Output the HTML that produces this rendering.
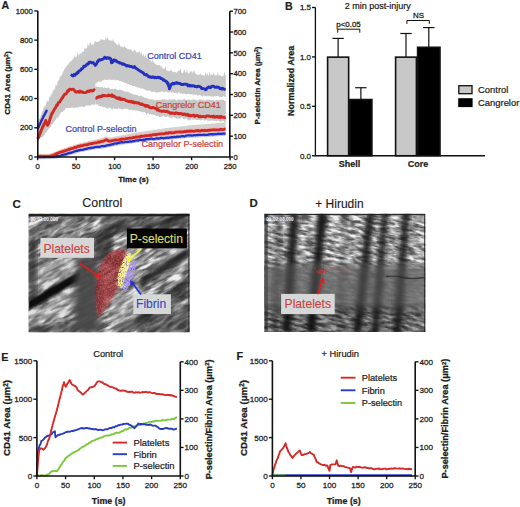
<!DOCTYPE html>
<html><head><meta charset="utf-8"><style>
html,body{margin:0;padding:0;background:#fff;}
body{width:520px;height:507px;overflow:hidden;}
svg{position:absolute;left:0;top:0;font-family:"Liberation Sans", sans-serif;}
</style></head><body>
<svg width="520" height="507" viewBox="0 0 520 507">
<defs>
<clipPath id="clipC"><rect x="28.6" y="213.7" width="161.0" height="118.5"/></clipPath>
<clipPath id="clipYel"><polygon points="116.5,285 118.5,272 122.5,261 126,255 131,252 130,262 126.5,274 122,287"/></clipPath>
<clipPath id="clipPur"><polygon points="122,288 125,276 129,266 133,260 137.5,262 133.5,274 129.5,286 125.5,291"/></clipPath>
<filter id="speckY" x="0" y="0" width="100%" height="100%"><feTurbulence type="fractalNoise" baseFrequency="0.8" numOctaves="1" seed="4"/><feColorMatrix type="matrix" values="0 0 0 0 0.95  0 0 0 0 0.92  0 0 0 0 0.3  3.5 0 0 0 -1.0"/></filter>
<filter id="speckP" x="0" y="0" width="100%" height="100%"><feTurbulence type="fractalNoise" baseFrequency="0.8" numOctaves="1" seed="8"/><feColorMatrix type="matrix" values="0 0 0 0 0.42  0 0 0 0 0.3  0 0 0 0 0.88  3.5 0 0 0 -0.9"/></filter>
<clipPath id="clipD"><rect x="264.4" y="213.8" width="161.0" height="118.2"/></clipPath>
<linearGradient id="gDband" x1="0" y1="260" x2="0" y2="316" gradientUnits="userSpaceOnUse"><stop offset="0" stop-color="#fff" stop-opacity="0"/><stop offset="0.18" stop-color="#fff" stop-opacity="0.85"/><stop offset="0.8" stop-color="#fff" stop-opacity="0.85"/><stop offset="1" stop-color="#fff" stop-opacity="0"/></linearGradient>
<mask id="maskDband" maskUnits="userSpaceOnUse" x="260" y="255" width="170" height="65"><rect x="260" y="260" width="170" height="56" fill="url(#gDband)"/></mask>
<linearGradient id="gDband2" x1="0" y1="260" x2="0" y2="316" gradientUnits="userSpaceOnUse"><stop offset="0" stop-color="#fff" stop-opacity="0"/><stop offset="0.18" stop-color="#fff" stop-opacity="1"/><stop offset="0.8" stop-color="#fff" stop-opacity="1"/><stop offset="1" stop-color="#fff" stop-opacity="0"/></linearGradient>
<mask id="maskDband2" maskUnits="userSpaceOnUse" x="260" y="205" width="170" height="135"><rect x="260" y="260" width="170" height="56" fill="url(#gDband2)"/></mask>
<clipPath id="clipDred"><ellipse cx="329" cy="270.5" rx="24" ry="4"/></clipPath>
<filter id="speckR" x="0" y="0" width="100%" height="100%"><feTurbulence type="fractalNoise" baseFrequency="0.7" numOctaves="1" seed="11"/><feColorMatrix type="matrix" values="0 0 0 0 0.85  0 0 0 0 0.15  0 0 0 0 0.15  4 0 0 0 -2.3"/></filter>
<clipPath id="clipRed"><polygon points="97.6,313.7 95.9,307 95.9,290 96.7,278.5 100,265 108.5,253.4 114,250.5 122,249 127,250 125,265 121.8,278.5 118.5,288.6 113.5,297 106.8,307 101.8,313.7 99,317"/></clipPath>
<filter id="noiseC" x="0" y="0" width="100%" height="100%" filterUnits="objectBoundingBox"><feTurbulence type="fractalNoise" baseFrequency="0.07 0.3" numOctaves="3" seed="3"/><feColorMatrix type="matrix" values="2.5 0 0 0 -0.75  2.5 0 0 0 -0.75  2.5 0 0 0 -0.75  0 0 0 0 1"/><feComponentTransfer><feFuncR type="table" tableValues="0.1 0.16 0.24 0.33 0.45 0.63 0.86"/><feFuncG type="table" tableValues="0.1 0.16 0.24 0.33 0.45 0.63 0.86"/><feFuncB type="table" tableValues="0.1 0.16 0.24 0.33 0.45 0.63 0.86"/></feComponentTransfer></filter>
<filter id="noiseC2" x="0" y="0" width="100%" height="100%"><feTurbulence type="fractalNoise" baseFrequency="0.06 0.35" numOctaves="3" seed="7"/><feColorMatrix type="matrix" values="0 0 0 0 1  0 0 0 0 1  0 0 0 0 1  2.2 0 0 0 -0.7"/></filter>
<filter id="noiseV" x="0" y="0" width="100%" height="100%" filterUnits="objectBoundingBox"><feTurbulence type="fractalNoise" baseFrequency="0.1 0.36" numOctaves="3" seed="5"/><feColorMatrix type="matrix" values="2.5 0 0 0 -0.75  2.5 0 0 0 -0.75  2.5 0 0 0 -0.75  0 0 0 0 1"/><feComponentTransfer><feFuncR type="table" tableValues="0.1 0.17 0.26 0.36 0.48 0.65 0.87"/><feFuncG type="table" tableValues="0.1 0.17 0.26 0.36 0.48 0.65 0.87"/><feFuncB type="table" tableValues="0.1 0.17 0.26 0.36 0.48 0.65 0.87"/></feComponentTransfer></filter>
<filter id="speck" x="0" y="0" width="100%" height="100%"><feTurbulence type="fractalNoise" baseFrequency="0.6" numOctaves="2" seed="9"/><feColorMatrix type="matrix" values="0 0 0 0 1  0 0 0 0 0.75  0 0 0 0 0.75  3 0 0 0 -1.2"/></filter>
<filter id="blur1"><feGaussianBlur stdDeviation="1"/></filter>
<filter id="blur2"><feGaussianBlur stdDeviation="2"/></filter>
<filter id="blur3"><feGaussianBlur stdDeviation="3"/></filter>
<filter id="blur4"><feGaussianBlur stdDeviation="4"/></filter>
</defs>
<text x="1.6" y="8.6" font-size="10.6" text-anchor="start" font-weight="bold" fill="#1c1c1c" stroke="#1c1c1c" stroke-width="0.18" >A</text>
<polygon points="37.5,122.0 38.0,121.1 38.5,121.0 39.1,119.6 39.6,118.4 40.1,118.2 40.4,116.6 40.7,115.9 41.0,112.0 41.3,115.5 41.6,114.2 41.9,112.6 42.2,110.3 42.5,111.6 42.8,111.0 43.1,110.1 43.4,105.3 43.7,109.3 44.0,108.1 44.3,106.3 44.8,106.7 45.3,106.1 45.8,105.5 46.3,99.9 46.9,103.5 47.4,100.1 47.9,102.1 48.4,101.2 48.8,100.0 49.2,96.1 49.5,98.7 49.9,95.4 50.3,97.1 50.7,96.3 51.1,91.8 51.5,95.8 51.8,93.6 52.2,94.4 52.6,92.5 53.0,88.9 53.3,91.1 53.7,90.3 54.1,89.8 54.5,89.2 54.8,89.3 55.2,88.0 55.6,83.1 56.0,86.1 56.3,86.0 56.7,84.5 57.1,84.7 57.5,83.1 57.8,80.5 58.2,81.5 58.6,80.6 59.0,79.8 59.4,79.7 59.8,75.4 60.1,76.6 60.5,76.6 60.9,76.4 61.3,75.3 61.6,75.6 62.0,74.6 62.4,73.6 62.8,72.2 63.1,72.4 63.5,70.6 63.9,70.5 64.3,69.6 64.6,68.5 65.0,68.6 65.5,67.9 66.0,67.3 66.5,66.0 67.0,66.1 67.6,64.7 68.1,64.7 68.6,63.7 69.1,62.9 69.8,61.5 70.5,62.1 71.2,61.0 71.9,60.3 72.6,59.4 73.3,58.3 74.0,57.7 74.7,55.0 75.4,57.3 76.2,57.3 76.9,56.0 77.7,51.7 78.5,55.5 79.2,55.3 80.0,52.7 80.7,54.1 81.3,53.6 82.0,52.7 82.6,51.5 83.3,52.0 83.9,51.2 84.6,48.3 85.2,47.8 85.8,49.2 86.3,48.1 86.9,48.4 87.5,42.9 88.0,45.7 88.6,45.8 89.2,44.9 90.1,41.5 91.0,44.1 92.0,44.7 92.9,44.5 93.8,44.6 94.6,42.1 95.4,40.9 96.2,41.9 96.9,42.0 97.7,41.7 98.5,41.6 99.4,41.3 100.3,40.0 101.2,38.7 102.1,40.1 103.0,39.4 103.9,40.1 104.9,40.2 105.8,36.9 106.8,40.0 107.7,36.3 108.5,40.5 109.2,40.2 110.0,40.1 110.8,41.2 111.5,40.3 112.3,41.3 113.1,38.4 113.8,41.6 114.6,42.2 115.4,43.0 116.1,43.7 116.9,44.7 117.7,45.2 118.4,44.7 119.2,42.5 120.0,45.9 120.7,46.6 121.5,46.2 122.3,47.2 123.1,46.6 123.8,47.9 124.6,45.5 125.4,47.8 126.2,47.3 127.0,48.4 127.7,49.2 128.5,49.2 129.3,49.0 130.0,49.9 130.8,49.1 131.6,50.1 132.3,51.4 133.1,51.2 133.9,51.0 134.6,49.2 135.4,50.4 136.2,52.5 136.9,52.3 137.7,52.2 138.5,52.5 139.2,50.8 140.0,53.4 140.7,53.8 141.3,51.4 142.0,55.0 142.7,55.8 143.3,53.3 144.0,56.6 144.7,56.4 145.3,53.7 146.0,57.1 146.7,58.0 147.4,59.1 148.1,57.9 148.9,59.1 149.6,60.5 150.3,59.4 151.0,61.7 151.7,61.7 152.4,59.3 153.1,62.5 153.9,61.5 154.6,63.7 155.3,64.0 156.0,64.6 156.7,64.8 157.4,64.9 158.1,65.3 158.8,65.1 159.6,64.9 160.3,67.0 161.0,64.7 161.7,66.9 162.5,68.4 163.2,68.8 164.0,68.5 164.7,69.0 165.5,66.1 166.2,70.0 167.0,70.4 167.9,70.9 168.8,70.9 169.7,71.3 170.5,70.1 171.4,70.0 172.3,72.0 173.1,71.5 173.9,72.1 174.7,72.2 175.6,72.1 176.4,72.8 177.2,72.4 178.0,70.4 178.8,71.0 179.6,70.2 180.5,68.2 181.3,72.5 182.1,73.1 182.9,73.2 183.7,70.7 184.5,69.4 185.3,72.4 186.2,72.5 187.0,69.5 187.8,73.1 188.6,73.4 189.4,73.1 190.2,70.8 191.1,72.4 191.9,70.1 192.7,73.7 193.5,70.4 194.3,71.1 195.1,74.1 195.9,72.9 196.7,75.0 197.5,74.5 198.3,75.1 199.2,74.2 200.0,74.6 200.8,73.2 201.6,75.3 202.4,74.9 203.2,75.2 204.0,75.4 204.8,76.0 205.6,71.5 206.4,75.8 207.3,72.5 208.1,75.5 208.9,75.6 209.7,71.0 210.5,76.0 211.3,73.7 212.2,75.3 213.0,74.8 213.8,72.1 214.6,75.5 215.4,75.3 216.2,75.1 217.0,75.9 217.8,71.7 218.6,75.8 219.4,75.3 220.2,75.4 221.0,75.6 221.8,76.5 222.6,75.9 223.4,76.5 224.2,72.2 225.0,73.1 225.8,76.0 225.8,97.0 224.7,96.9 223.7,95.7 222.6,96.7 221.6,97.3 220.5,97.0 219.5,96.8 218.4,96.3 217.4,96.1 216.3,96.1 215.3,96.4 214.2,95.8 213.2,97.2 212.1,96.0 211.1,96.9 210.0,96.0 209.0,96.6 207.9,95.6 206.9,96.7 205.9,96.0 204.8,96.0 203.8,95.3 202.8,96.5 201.8,96.0 200.7,95.5 199.7,95.0 198.7,95.3 197.6,95.8 196.6,94.6 195.6,95.1 194.5,94.7 193.5,94.8 192.5,94.3 191.4,94.3 190.4,94.0 189.3,94.3 188.3,93.8 187.3,93.9 186.2,94.2 185.2,94.1 184.2,93.5 183.1,93.7 182.1,94.1 181.0,92.9 180.0,93.9 179.0,91.6 178.0,93.4 177.0,93.7 176.0,92.2 175.0,93.2 174.0,92.8 173.0,92.5 172.0,92.5 171.0,92.8 170.0,91.5 169.0,92.5 168.0,92.5 167.0,92.1 166.0,91.4 165.0,91.4 164.0,93.1 163.0,91.5 162.0,91.5 161.0,91.6 160.0,92.1 159.0,92.2 158.0,92.3 157.0,92.9 155.9,92.1 154.9,92.4 153.8,91.1 152.8,92.1 151.8,91.9 150.7,91.2 149.7,90.3 148.6,90.4 147.6,90.7 146.5,90.5 145.5,90.2 144.6,89.2 143.6,89.0 142.6,87.9 141.6,88.9 140.7,88.6 139.7,87.8 138.7,87.6 137.7,87.7 136.8,86.7 135.8,87.0 134.8,86.1 133.8,86.0 132.9,86.3 131.9,85.6 130.9,84.9 129.9,85.1 128.9,84.2 127.9,84.4 127.0,83.6 126.0,83.0 125.0,83.0 124.0,82.6 123.0,82.0 122.1,81.6 121.1,81.4 120.1,80.7 119.1,81.0 118.1,80.0 117.1,80.0 116.2,80.2 115.2,80.2 114.2,79.6 113.1,79.9 112.1,79.9 111.0,79.7 109.9,79.5 108.8,79.5 107.8,80.2 106.7,79.4 105.6,80.5 104.6,79.3 103.5,80.5 102.5,80.2 101.5,81.7 100.5,81.8 99.5,81.7 98.4,81.5 97.4,82.2 96.4,82.8 95.4,83.5 95.4,104.5 94.4,104.4 93.3,105.1 92.3,104.6 91.2,104.8 90.2,105.9 89.1,105.2 88.1,105.7 87.0,105.3 86.0,105.7 84.9,106.7 83.9,106.9 82.8,107.1 81.8,106.3 80.7,106.7 79.6,106.9 78.6,106.7 77.5,108.0 76.5,107.5 75.4,107.5 74.2,108.5 73.0,107.5 71.9,107.4 70.7,107.7 69.5,108.3 68.5,107.7 67.4,107.9 66.4,107.9 65.5,108.4 64.6,110.3 63.7,110.7 62.7,111.7 61.8,112.3 60.9,112.0 60.2,113.9 59.5,114.8 58.8,115.7 58.1,118.4 57.4,117.2 56.7,117.6 56.2,119.0 55.7,119.6 55.2,120.4 54.7,121.0 54.1,121.8 53.6,122.6 53.1,124.2 52.6,124.4 51.9,123.5 51.2,126.4 50.5,126.9 49.8,127.4 49.1,128.6 48.4,128.8 47.5,130.5 46.7,131.5 45.8,132.7 45.2,132.7 44.5,134.8 43.9,134.7 43.2,136.4 42.6,136.9 41.8,137.1 40.9,137.6 40.1,138.0 39.3,138.7 38.4,141.1 37.6,140.5" fill="#c8c8c8"/>
<polygon points="95.4,86.8 96.4,86.3 97.4,87.2 98.4,86.7 99.5,87.5 100.5,87.0 101.5,87.2 102.5,86.9 103.5,88.1 104.6,87.3 105.6,88.1 106.7,88.1 107.8,87.7 108.8,87.6 109.9,88.9 111.0,89.1 112.1,88.7 113.1,89.2 114.2,89.0 115.2,88.5 116.2,89.3 117.1,89.5 118.1,90.2 119.1,89.5 120.1,89.7 121.1,89.9 122.1,90.2 123.0,90.4 124.0,91.5 125.0,91.4 126.0,91.7 127.0,91.6 127.9,92.1 128.9,92.3 129.9,93.3 130.9,92.7 131.9,94.3 132.9,93.8 133.8,94.9 134.8,94.3 135.8,95.1 136.8,94.9 137.7,94.9 138.7,96.5 139.7,95.8 140.7,96.2 141.6,95.2 142.6,96.7 143.6,97.0 144.6,97.8 145.5,97.7 146.5,98.1 147.6,98.6 148.7,99.1 149.7,99.4 150.8,98.9 151.9,99.4 153.0,99.2 154.1,99.9 155.1,100.5 156.2,99.9 157.3,99.7 158.4,99.8 159.4,100.1 160.5,99.9 161.5,99.7 162.6,99.0 163.7,99.4 164.7,99.3 165.8,99.4 166.8,99.9 167.9,100.2 168.9,99.4 170.0,99.2 171.0,100.1 172.0,98.9 173.0,100.1 174.0,98.9 175.0,99.4 176.0,100.0 177.0,101.0 178.0,98.9 179.0,99.5 180.0,99.9 181.0,99.5 182.0,100.2 183.0,99.8 184.0,98.8 185.0,99.1 186.0,100.1 187.0,100.0 188.0,99.5 189.0,99.1 190.0,100.2 191.0,99.9 192.0,99.7 193.0,99.6 194.0,99.1 195.0,99.8 196.0,99.6 197.0,100.4 198.0,100.4 199.0,99.7 200.0,99.0 201.0,99.4 202.0,100.3 203.0,99.3 204.0,100.5 205.0,100.1 206.0,100.3 207.0,99.5 208.0,100.1 209.0,99.5 210.0,100.2 211.0,100.1 212.0,100.3 213.0,100.0 214.0,99.7 215.0,101.3 216.1,99.7 217.2,100.1 218.2,100.2 219.3,100.2 220.4,100.1 221.5,99.8 222.6,99.7 223.6,100.1 224.7,101.0 225.8,100.5 225.8,121.5 224.7,123.0 223.7,120.9 222.6,120.7 221.6,121.5 220.5,121.9 219.4,121.0 218.4,120.8 217.3,120.7 216.2,121.5 215.2,120.6 214.1,120.9 213.1,120.8 212.0,120.2 211.0,120.6 210.0,121.3 209.0,120.5 208.0,121.3 207.0,119.8 206.0,120.1 205.0,120.8 204.0,120.2 203.0,119.4 202.0,119.7 201.0,120.8 200.0,120.1 199.0,119.8 198.0,120.0 197.0,119.9 196.0,119.8 195.0,119.7 194.0,119.3 193.0,120.2 192.0,119.1 191.0,119.4 190.0,120.1 189.0,120.7 188.0,120.0 187.0,119.3 186.0,118.1 185.0,119.6 184.0,118.9 183.0,119.0 182.0,116.5 181.0,118.4 180.0,118.4 179.0,118.6 178.0,118.5 177.0,118.7 176.0,118.7 175.0,117.4 174.0,117.7 173.0,116.8 172.0,118.4 171.0,118.2 170.0,117.2 168.9,117.5 167.9,115.7 166.8,117.6 165.8,116.4 164.7,116.9 163.7,115.6 162.6,116.3 161.5,116.4 160.5,116.8 159.4,117.6 158.4,115.5 157.3,116.3 156.3,115.7 155.3,115.6 154.4,114.7 153.4,114.9 152.4,114.5 151.4,114.6 150.4,113.8 149.4,114.4 148.5,113.4 147.5,112.7 146.5,115.4 145.5,113.0 144.6,112.0 143.6,111.9 142.6,112.5 141.6,111.9 140.7,111.2 139.7,111.5 138.7,111.0 137.7,110.7 136.8,110.6 135.8,110.4 134.7,110.4 133.6,110.0 132.6,110.6 131.5,109.8 130.4,110.3 129.3,109.8 128.2,109.6 127.2,108.6 126.1,109.1 125.0,108.8 123.9,108.8 122.8,109.2 121.8,109.5 120.7,108.7 119.6,108.8 118.5,108.2 117.4,108.9 116.4,108.7 115.3,108.7 114.2,108.9 113.1,107.8 112.1,110.2 111.0,108.2 109.9,107.9 108.8,107.2 107.8,109.0 106.7,108.1 105.6,107.7 104.6,107.0 103.5,107.4 102.5,106.6 101.5,106.2 100.5,106.6 99.5,105.5 98.4,106.1 97.4,103.9 96.4,104.4 95.4,104.5" fill="#c8c8c8"/>
<polygon points="37.7,155.1 49.2,154.6 55.4,152.2 63.0,148.9 70.8,146.3 78.5,143.8 86.2,141.8 93.8,140.1 101.5,138.2 106.2,136.3 109.2,137.6 120.0,135.7 136.2,132.6 150.0,130.6 166.9,127.9 180.0,126.4 193.5,125.0 210.0,123.7 225.6,122.2 225.6,134.7 210.0,135.7 190.0,136.7 170.0,138.7 150.0,140.2 136.2,141.8 120.0,143.9 109.2,146.2 101.5,147.7 93.8,148.5 86.2,150.0 78.5,151.6 70.8,153.9 63.0,156.2 55.4,157.7 52.0,158.0 37.7,158.2" fill="#d2d2d2"/>
<polygon points="37.7,154.1 49.2,154.0 55.4,151.7 63.0,148.7 70.8,146.3 78.5,144.0 86.2,142.2 93.8,140.7 101.5,139.1 106.2,137.3 109.2,138.7 120.0,137.1 136.2,134.5 150.0,132.9 166.9,130.7 180.0,129.5 193.5,128.5 210.0,127.7 225.6,126.7 225.6,131.4 210.0,132.4 193.5,133.2 180.0,134.2 166.9,135.4 150.0,137.6 136.2,139.2 120.0,141.8 109.2,143.4 106.2,142.0 101.5,143.8 93.8,145.4 86.2,146.9 78.5,148.7 70.8,151.0 63.0,153.4 55.4,156.4 49.2,158.7 37.7,158.8" fill="#f2b8b0"/>
<polygon points="37.7,155.2 52.0,155.0 55.4,154.7 63.0,153.2 70.8,150.9 78.5,148.6 86.2,147.0 93.8,145.5 101.5,144.7 109.2,143.2 120.0,140.9 136.2,138.8 150.0,137.2 170.0,135.7 190.0,133.7 210.0,132.7 225.6,131.7 225.6,135.7 210.0,136.7 190.0,137.7 170.0,139.7 150.0,141.2 136.2,142.8 120.0,144.9 109.2,147.2 101.5,148.7 93.8,149.5 86.2,151.0 78.5,152.6 70.8,154.9 63.0,157.2 55.4,158.7 52.0,159.0 37.7,159.2" fill="#b8c0f0"/>
<polyline points="37.7,157.0 38.7,156.8 39.7,157.1 40.8,157.1 41.8,156.9 42.8,156.7 43.8,157.1 44.9,157.1 45.9,156.9 46.9,156.9 47.9,156.7 48.9,156.5 50.0,156.7 51.0,156.9 52.0,156.5 53.1,156.9 54.3,156.4 55.4,156.3 56.5,156.0 57.6,156.4 58.7,156.0 59.7,155.9 60.8,155.5 61.9,154.9 63.0,154.9 64.0,154.7 65.0,154.2 65.9,154.5 66.9,153.8 67.9,153.3 68.8,153.5 69.8,152.7 70.8,153.0 71.8,152.4 72.7,152.2 73.7,151.7 74.7,151.5 75.6,151.0 76.6,150.7 77.5,150.9 78.5,150.2 79.6,150.4 80.7,149.7 81.8,150.0 82.9,149.8 84.0,149.4 85.1,149.2 86.2,148.9 87.3,148.7 88.4,148.1 89.5,148.1 90.5,148.2 91.6,147.5 92.7,147.8 93.8,147.6 94.9,147.1 96.0,147.0 97.1,146.9 98.2,146.8 99.3,147.1 100.4,146.5 101.5,146.2 102.6,146.0 103.7,146.2 104.8,146.2 105.9,145.6 107.0,145.4 108.1,145.2 109.2,145.2 110.2,144.6 111.2,144.7 112.1,144.4 113.1,144.2 114.1,143.7 115.1,143.5 116.1,143.4 117.1,143.6 118.0,143.0 119.0,143.0 120.0,142.6 121.0,142.3 122.0,142.1 123.0,142.5 124.0,142.4 125.1,142.0 126.1,142.0 127.1,141.9 128.1,141.9 129.1,141.8 130.1,141.3 131.1,141.6 132.1,141.4 133.2,141.1 134.2,141.1 135.2,140.7 136.2,140.5 137.3,140.3 138.3,140.6 139.4,140.0 140.4,139.8 141.5,140.2 142.6,140.1 143.6,139.7 144.7,139.9 145.8,139.2 146.8,139.2 147.9,139.1 148.9,139.1 150.0,138.8 151.0,138.6 152.0,138.7 153.0,139.1 154.0,139.0 155.0,138.8 156.0,138.5 157.0,138.3 158.0,138.7 159.0,138.3 160.0,138.4 161.0,137.8 162.0,137.9 163.0,138.3 164.0,138.2 165.0,138.1 166.0,137.9 167.0,137.7 168.0,137.7 169.0,137.8 170.0,137.4 171.0,137.4 172.0,137.1 173.0,137.4 174.0,136.8 175.0,137.1 176.0,137.2 177.0,136.5 178.0,136.8 179.0,136.7 180.0,136.7 181.0,136.5 182.0,136.1 183.0,136.1 184.0,136.4 185.0,136.3 186.0,135.6 187.0,135.5 188.0,135.4 189.0,135.3 190.0,135.5 191.0,135.2 192.0,135.7 193.0,135.5 194.0,135.0 195.0,135.3 196.0,135.1 197.0,135.1 198.0,134.9 199.0,134.8 200.0,134.8 201.0,134.9 202.0,135.0 203.0,134.9 204.0,134.5 205.0,134.9 206.0,135.0 207.0,134.8 208.0,134.8 209.0,134.2 210.0,134.5 211.0,134.1 212.1,134.6 213.1,134.1 214.2,134.4 215.2,134.0 216.2,134.2 217.3,133.9 218.3,133.6 219.4,133.8 220.4,133.7 221.4,134.0 222.5,133.6 223.5,133.6 224.6,133.6 225.6,133.5" fill="none" stroke="#2430c0" stroke-width="2.2" stroke-linejoin="round"/>
<polyline points="37.7,156.6 38.7,156.9 39.8,156.3 40.8,156.2 41.9,156.9 42.9,156.3 44.0,156.3 45.0,156.6 46.1,156.4 47.1,156.8 48.2,156.3 49.2,156.8 50.2,156.0 51.3,155.8 52.3,155.7 53.3,155.1 54.4,154.9 55.4,154.3 56.4,153.5 57.3,153.7 58.2,153.1 59.2,152.6 60.1,152.1 61.1,152.2 62.0,151.6 63.0,151.5 64.0,151.1 65.0,150.9 65.9,150.3 66.9,150.1 67.9,149.8 68.8,149.2 69.8,149.4 70.8,148.7 71.8,148.7 72.7,148.5 73.7,148.0 74.7,147.4 75.6,147.6 76.6,147.2 77.5,146.6 78.5,146.2 79.6,146.3 80.7,145.7 81.8,146.0 82.9,145.5 84.0,145.2 85.1,144.9 86.2,144.8 87.3,144.8 88.4,144.1 89.5,144.0 90.5,143.9 91.6,143.5 92.7,143.5 93.8,143.2 94.9,142.9 96.0,142.9 97.1,142.5 98.2,142.0 99.3,142.4 100.4,141.7 101.5,141.6 102.4,141.2 103.4,141.2 104.3,140.8 105.3,140.2 106.2,139.7 107.2,140.0 108.2,141.0 109.2,141.0 110.3,141.1 111.4,140.8 112.4,140.6 113.5,140.5 114.6,140.2 115.7,139.9 116.8,140.1 117.8,140.1 118.9,139.9 120.0,139.4 121.0,139.6 122.0,139.0 123.0,139.1 124.0,139.2 125.1,139.1 126.1,138.6 127.1,138.7 128.1,138.3 129.1,138.2 130.1,138.0 131.1,138.2 132.1,137.8 133.2,137.5 134.2,137.5 135.2,137.3 136.2,136.9 137.3,137.1 138.3,137.0 139.4,136.7 140.4,136.8 141.5,136.0 142.6,136.3 143.6,136.2 144.7,135.9 145.8,135.7 146.8,135.9 147.9,135.6 148.9,135.4 150.0,135.1 151.0,135.6 152.0,135.0 153.0,134.7 154.0,134.7 155.0,134.6 156.0,134.9 157.0,134.3 158.0,134.2 158.9,134.0 159.9,134.1 160.9,133.8 161.9,133.7 162.9,133.9 163.9,133.9 164.9,133.7 165.9,133.0 166.9,133.1 167.9,133.4 168.9,132.7 169.9,132.7 170.9,132.8 171.9,132.7 172.9,132.8 174.0,132.7 175.0,132.4 176.0,132.2 177.0,132.1 178.0,132.0 179.0,131.8 180.0,132.1 181.0,131.7 182.1,132.1 183.1,131.9 184.2,131.4 185.2,131.6 186.2,131.6 187.3,131.1 188.3,131.4 189.3,131.0 190.4,131.4 191.4,130.8 192.5,131.2 193.5,131.3 194.5,131.2 195.6,130.7 196.6,130.9 197.6,130.5 198.7,130.6 199.7,131.0 200.7,130.9 201.8,130.3 202.8,130.5 203.8,130.6 204.8,130.2 205.9,130.6 206.9,130.6 207.9,130.3 209.0,130.2 210.0,130.4 211.0,130.1 212.1,129.8 213.1,129.8 214.2,129.7 215.2,130.1 216.2,129.8 217.3,129.9 218.3,129.9 219.4,129.9 220.4,129.3 221.4,129.4 222.5,129.7 223.5,129.5 224.6,129.2 225.6,129.2" fill="none" stroke="#d02a24" stroke-width="2.8" stroke-linejoin="round"/>
<polyline points="37.4,129.0 37.9,128.4 38.3,127.6 38.8,126.6 39.3,125.0 39.7,124.5 40.2,123.5 40.6,122.6 41.1,121.4 41.5,120.5 42.0,119.8 42.4,118.7 42.9,118.0 43.4,116.6 43.9,115.7 44.4,115.2 44.9,113.9 45.4,113.0 45.9,112.2 46.4,110.9 47.2,110.0" fill="none" stroke="#2430c0" stroke-width="2.4"/>
<polyline points="70.8,74.5 71.9,75.3 73.0,76.0 74.0,74.6 75.0,75.2 75.9,73.6 76.9,73.7 77.6,72.2 78.3,72.5 78.9,70.9 79.6,71.0 80.3,70.4 81.0,69.7 81.6,68.6 82.3,68.5 83.0,68.0 83.8,66.2 84.5,66.2 85.3,66.2 86.1,65.3 86.9,64.3 87.7,63.6 88.4,63.9 89.2,62.1 90.8,62.3 91.9,62.9 93.0,62.5 93.8,63.5 94.6,64.3 95.4,65.4 95.9,64.3 96.3,64.2 96.8,63.4 97.2,61.8 97.7,61.8 98.6,60.1 99.4,59.7 100.3,60.1 101.2,59.8 102.0,59.4 102.9,59.2 103.7,58.6 104.6,57.3 105.5,58.1 106.4,58.5 107.3,57.5 108.1,58.3 109.0,58.0 109.9,58.1 110.8,58.8 111.0,60.0 111.2,61.4 111.3,61.2 111.5,62.7 112.3,62.5 113.0,61.3 113.8,60.0 114.7,60.0 115.5,61.0 116.4,60.8 117.2,61.8 118.1,62.2 118.9,62.2 119.8,63.1 120.6,63.0 121.5,63.5 122.4,64.3 123.2,63.8 124.1,64.1 124.9,64.9 125.8,65.1 126.6,66.0 127.5,65.5 128.3,66.0 129.2,65.9 130.2,66.6 131.3,66.5 132.3,66.8 133.3,67.4 134.4,66.5 135.4,68.0 136.2,68.2 136.9,69.0 137.7,69.3 138.5,70.0 139.2,70.4 140.0,71.1 140.9,71.4 141.8,72.1 142.7,72.6 143.5,73.1 144.3,74.4 145.1,74.7 145.8,75.0 146.6,74.6 147.4,75.4 148.2,76.3 149.0,77.0 149.9,76.7 150.8,77.1 151.7,77.6 152.7,76.8 153.6,77.1 154.5,77.8 155.4,77.2 156.3,77.9 157.2,77.6 158.1,77.1 159.0,77.8 159.9,77.4 160.8,78.5 161.7,78.7 162.5,78.9 163.3,80.2 164.2,79.9 165.0,80.9 165.8,81.2 166.5,81.6 167.2,83.3 168.0,82.9 168.3,85.0 168.6,85.5 168.8,86.6 169.1,86.6 169.4,88.8 169.9,87.8 170.4,86.0 171.0,85.2 171.5,84.3 172.0,84.0 172.9,83.2 173.8,84.0 174.8,83.3 175.7,83.4 176.6,82.6 177.5,83.3 178.5,83.2 179.4,83.6 180.3,83.5 181.3,84.5 182.2,84.5 183.1,84.6 184.1,84.1 185.0,84.1 186.0,84.2 187.0,84.4 188.0,85.8 189.0,85.1 190.0,86.1 191.0,85.4 192.0,86.1 193.0,85.6 194.0,85.8 195.0,86.5 196.0,86.5 197.0,87.0 198.0,86.1 198.9,86.5 199.9,86.6 200.8,87.2 201.8,88.6 202.7,88.4 203.6,88.6 204.6,88.8 205.5,89.8 206.4,89.2 207.2,88.0 208.1,87.3 209.0,87.0 209.9,87.7 210.8,87.3 211.8,86.4 212.7,86.1 213.8,86.4 214.8,87.2 215.9,87.4 216.9,86.9 218.0,87.3 219.0,87.4 219.9,88.6 220.9,88.3 221.8,89.1 222.8,88.3 223.8,89.1 224.7,89.3 225.7,89.4" fill="none" stroke="#2430c0" stroke-width="2.9" stroke-linejoin="round"/>
<polyline points="37.7,139.0 38.1,137.8 38.5,137.6 39.0,136.5 39.4,134.6 39.8,134.7 40.1,133.5 40.5,131.9 40.8,132.3 41.1,130.5 41.5,129.7 41.9,128.9 42.3,128.1 42.7,126.5 43.1,126.3 43.5,125.5 43.9,124.2 44.4,123.7 44.8,122.7 45.3,122.1 45.7,120.4 46.1,121.4 46.4,122.4 46.8,122.8 47.1,124.8 47.5,125.2 48.6,123.4 48.9,123.2 49.1,122.1 49.4,120.9 49.6,120.0 49.9,119.5 50.2,118.1 50.4,117.9 50.7,117.0 50.9,115.6 51.2,115.7 51.7,113.7 52.1,113.0 52.6,113.0 53.1,111.3 53.5,110.8 54.0,110.1 54.5,109.0 55.1,108.2 55.6,107.4 56.2,106.5 56.7,105.0 57.3,105.2 57.9,103.7 58.5,102.6 59.1,102.3 59.7,102.0 60.3,101.0 60.9,99.9 61.5,99.2 62.1,98.0 62.7,97.8 63.2,96.6 63.8,95.5 64.4,94.8 65.0,93.9 65.6,94.1 66.2,93.7 66.8,92.8 67.3,91.4 67.9,90.6 68.5,91.0 69.1,89.5 70.1,89.1 71.2,89.5 72.2,89.3 73.3,89.1 73.8,89.7 74.3,90.2 74.9,91.2 75.4,91.9 76.3,92.2 77.2,91.7 78.2,91.5 79.1,92.3 80.0,91.0 81.1,92.1 82.1,91.8 83.2,92.5 84.2,92.6 85.3,92.6 86.2,92.4 87.2,91.5 88.1,90.9 89.1,91.6 90.0,90.7 91.0,90.3 92.1,91.1 93.1,90.6 94.2,89.7 95.2,90.2" fill="none" stroke="#d02a24" stroke-width="2.9" stroke-linejoin="round"/>
<polyline points="95.4,98.3 96.3,98.3 97.2,97.3 98.1,97.0 99.0,97.2 99.9,96.2 100.8,96.9 101.7,96.6 102.6,95.3 103.5,95.9 104.5,95.5 105.4,95.6 106.4,95.9 107.3,95.9 108.3,95.0 109.2,95.5 110.2,95.3 111.0,95.9 111.9,94.9 112.7,96.5 113.6,95.9 114.4,96.1 115.2,97.1 116.1,97.7 116.9,98.2 117.8,97.7 118.7,98.7 119.6,97.8 120.5,99.5 121.4,98.8 122.3,99.5 123.2,99.2 124.1,99.4 125.0,99.6 125.9,100.6 126.9,100.8 127.8,101.3 128.8,101.6 129.7,101.2 130.6,102.0 131.6,101.3 132.5,102.4 133.5,101.8 134.4,102.9 135.3,102.4 136.3,102.7 137.2,103.1 138.2,102.8 139.1,103.1 140.0,104.0 141.0,104.5 141.9,103.8 142.9,104.6 143.8,104.8 144.7,105.7 145.6,106.3 146.5,105.3 147.4,106.3 148.3,105.9 149.2,107.2 150.1,107.7 151.0,107.7 151.9,107.8 152.8,107.4 153.7,107.7 154.6,108.2 155.5,108.3 156.4,108.7 157.3,110.1 158.2,109.6 159.1,110.7 160.0,110.8 160.9,111.0 161.9,111.4 162.8,111.3 163.8,111.0 164.7,111.4 165.6,111.5 166.6,111.2 167.5,111.4 168.5,112.4 169.4,112.5 170.3,113.3 171.2,112.9 172.1,113.3 173.0,113.0 173.9,113.3 174.8,113.7 175.7,112.8 176.7,112.9 177.6,113.6 178.5,113.5 179.4,113.8 180.3,113.5 181.2,113.7 182.1,113.8 183.0,114.6 183.9,113.9 184.8,114.0 185.7,115.0 186.6,114.8 187.5,114.3 188.4,115.7 189.3,115.1 190.2,115.9 191.1,115.6 192.0,115.5 192.9,115.4 193.8,115.1 194.7,116.4 195.6,115.7 196.5,115.6 197.4,115.5 198.3,116.2 199.2,116.8 200.1,116.1 201.0,116.7 201.9,116.6 202.8,116.3 203.7,116.6 204.6,116.7 205.5,117.0 206.4,115.9 207.3,116.0 208.2,116.2 209.1,116.0 210.0,116.4 210.9,116.6 211.8,116.4 212.7,116.8 213.6,116.1 214.6,117.4 215.5,117.2 216.4,116.4 217.3,116.5 218.3,117.3 219.2,116.5 220.1,117.4 221.1,116.4 222.0,117.3 222.9,117.4 223.8,117.2 224.8,117.6 225.7,117.2" fill="none" stroke="#d02a24" stroke-width="2.9" stroke-linejoin="round"/>
<path d="M37.8,10.9 V157.0 H230.0 M229.8,11.2 V157.0" stroke="#111" stroke-width="1.6" fill="none"/>
<path d="M34.3,10.90 H37.8" stroke="#111" stroke-width="1.35"/>
<text x="32.8" y="13.600000000000001" font-size="7.7" text-anchor="end" fill="#1c1c1c" stroke="#1c1c1c" stroke-width="0.27" >1000</text>
<path d="M34.3,40.12 H37.8" stroke="#111" stroke-width="1.35"/>
<text x="32.8" y="42.82" font-size="7.7" text-anchor="end" fill="#1c1c1c" stroke="#1c1c1c" stroke-width="0.27" >800</text>
<path d="M34.3,69.34 H37.8" stroke="#111" stroke-width="1.35"/>
<text x="32.8" y="72.04" font-size="7.7" text-anchor="end" fill="#1c1c1c" stroke="#1c1c1c" stroke-width="0.27" >600</text>
<path d="M34.3,98.56 H37.8" stroke="#111" stroke-width="1.35"/>
<text x="32.8" y="101.26" font-size="7.7" text-anchor="end" fill="#1c1c1c" stroke="#1c1c1c" stroke-width="0.27" >400</text>
<path d="M34.3,127.78 H37.8" stroke="#111" stroke-width="1.35"/>
<text x="32.8" y="130.48" font-size="7.7" text-anchor="end" fill="#1c1c1c" stroke="#1c1c1c" stroke-width="0.27" >200</text>
<path d="M34.3,157.00 H37.8" stroke="#111" stroke-width="1.35"/>
<text x="32.8" y="159.7" font-size="7.7" text-anchor="end" fill="#1c1c1c" stroke="#1c1c1c" stroke-width="0.27" >0</text>
<path d="M229.8,11.20 H233" stroke="#111" stroke-width="1.35"/>
<text x="233.5" y="13.899999999999999" font-size="7.7" text-anchor="start" fill="#1c1c1c" stroke="#1c1c1c" stroke-width="0.27" >700</text>
<path d="M229.8,32.03 H233" stroke="#111" stroke-width="1.35"/>
<text x="233.5" y="34.730000000000004" font-size="7.7" text-anchor="start" fill="#1c1c1c" stroke="#1c1c1c" stroke-width="0.27" >600</text>
<path d="M229.8,52.86 H233" stroke="#111" stroke-width="1.35"/>
<text x="233.5" y="55.56" font-size="7.7" text-anchor="start" fill="#1c1c1c" stroke="#1c1c1c" stroke-width="0.27" >500</text>
<path d="M229.8,73.69 H233" stroke="#111" stroke-width="1.35"/>
<text x="233.5" y="76.39" font-size="7.7" text-anchor="start" fill="#1c1c1c" stroke="#1c1c1c" stroke-width="0.27" >400</text>
<path d="M229.8,94.52 H233" stroke="#111" stroke-width="1.35"/>
<text x="233.5" y="97.22" font-size="7.7" text-anchor="start" fill="#1c1c1c" stroke="#1c1c1c" stroke-width="0.27" >300</text>
<path d="M229.8,115.35 H233" stroke="#111" stroke-width="1.35"/>
<text x="233.5" y="118.05" font-size="7.7" text-anchor="start" fill="#1c1c1c" stroke="#1c1c1c" stroke-width="0.27" >200</text>
<path d="M229.8,136.18 H233" stroke="#111" stroke-width="1.35"/>
<text x="233.5" y="138.87999999999997" font-size="7.7" text-anchor="start" fill="#1c1c1c" stroke="#1c1c1c" stroke-width="0.27" >100</text>
<path d="M229.8,157.01 H233" stroke="#111" stroke-width="1.35"/>
<text x="233.5" y="159.70999999999998" font-size="7.7" text-anchor="start" fill="#1c1c1c" stroke="#1c1c1c" stroke-width="0.27" >0</text>
<path d="M37.60,157.0 V160.2" stroke="#111" stroke-width="1.35"/>
<text x="37.6" y="168.5" font-size="7.7" text-anchor="middle" fill="#1c1c1c" stroke="#1c1c1c" stroke-width="0.27" >0</text>
<path d="M76.10,157.0 V160.2" stroke="#111" stroke-width="1.35"/>
<text x="76.1" y="168.5" font-size="7.7" text-anchor="middle" fill="#1c1c1c" stroke="#1c1c1c" stroke-width="0.27" >50</text>
<path d="M114.60,157.0 V160.2" stroke="#111" stroke-width="1.35"/>
<text x="114.6" y="168.5" font-size="7.7" text-anchor="middle" fill="#1c1c1c" stroke="#1c1c1c" stroke-width="0.27" >100</text>
<path d="M153.10,157.0 V160.2" stroke="#111" stroke-width="1.35"/>
<text x="153.1" y="168.5" font-size="7.7" text-anchor="middle" fill="#1c1c1c" stroke="#1c1c1c" stroke-width="0.27" >150</text>
<path d="M191.60,157.0 V160.2" stroke="#111" stroke-width="1.35"/>
<text x="191.6" y="168.5" font-size="7.7" text-anchor="middle" fill="#1c1c1c" stroke="#1c1c1c" stroke-width="0.27" >200</text>
<path d="M230.10,157.0 V160.2" stroke="#111" stroke-width="1.35"/>
<text x="230.1" y="168.5" font-size="7.7" text-anchor="middle" fill="#1c1c1c" stroke="#1c1c1c" stroke-width="0.27" >250</text>
<text x="133.4" y="182.2" font-size="8" text-anchor="middle" font-weight="bold" fill="#1c1c1c" stroke="#1c1c1c" stroke-width="0.26" >Time (s)</text>
<text transform="translate(10.3,83) rotate(-90)" x="0" y="0" font-size="8.1" text-anchor="middle" font-weight="bold" fill="#1c1c1c" stroke="#1c1c1c" stroke-width="0.28">CD41 Area (μm<tspan font-size="65%" dy="-0.45em">2</tspan><tspan dy="0.29em">)</tspan></text>
<text transform="translate(260.4,85.5) rotate(-90)" x="0" y="0" font-size="7.8" text-anchor="middle" font-weight="bold" fill="#1c1c1c" stroke="#1c1c1c" stroke-width="0.28">P-selectin Area (μm<tspan font-size="65%" dy="-0.45em">2</tspan><tspan dy="0.29em">)</tspan></text>
<text x="147.3" y="58.5" font-size="9" text-anchor="start" fill="#3b48b8" stroke="#3b48b8" stroke-width="0.23" >Control CD41</text>
<text x="155.8" y="107.5" font-size="9" text-anchor="start" fill="#c8443c" stroke="#c8443c" stroke-width="0.23" >Cangrelor CD41</text>
<text x="65.6" y="132.2" font-size="9" text-anchor="start" fill="#3b48b8" stroke="#3b48b8" stroke-width="0.23" >Control P-selectin</text>
<text x="141.6" y="147.3" font-size="9" text-anchor="start" fill="#c8443c" stroke="#c8443c" stroke-width="0.23" >Cangrelor P-selectin</text>
<text x="285.0" y="9.6" font-size="10.6" text-anchor="start" font-weight="bold" fill="#1c1c1c" stroke="#1c1c1c" stroke-width="0.18" >B</text>
<line x1="338.12" y1="57.15" x2="338.12" y2="38.42" stroke="#111" stroke-width="1.2"/>
<line x1="332.43" y1="38.42" x2="343.82" y2="38.42" stroke="#111" stroke-width="1.2"/>
<rect x="327.60" y="57.15" width="21.05" height="98.60" fill="#c8c8c8" stroke="#111" stroke-width="1.6"/>
<line x1="360.88" y1="99.55" x2="360.88" y2="87.72" stroke="#111" stroke-width="1.2"/>
<line x1="355.18" y1="87.72" x2="366.57" y2="87.72" stroke="#111" stroke-width="1.2"/>
<rect x="349.85" y="99.55" width="22.05" height="56.20" fill="#000" stroke="#111" stroke-width="1.6"/>
<line x1="406.00" y1="57.15" x2="406.00" y2="33.49" stroke="#111" stroke-width="1.2"/>
<line x1="400.30" y1="33.49" x2="411.70" y2="33.49" stroke="#111" stroke-width="1.2"/>
<rect x="395.60" y="57.15" width="20.80" height="98.60" fill="#c8c8c8" stroke="#111" stroke-width="1.6"/>
<line x1="428.80" y1="47.29" x2="428.80" y2="27.57" stroke="#111" stroke-width="1.2"/>
<line x1="423.10" y1="27.57" x2="434.50" y2="27.57" stroke="#111" stroke-width="1.2"/>
<rect x="417.60" y="47.29" width="22.40" height="108.46" fill="#000" stroke="#111" stroke-width="1.6"/>
<path d="M315.4,7.5 V155.75 H485" stroke="#111" stroke-width="1.3" fill="none"/>
<path d="M312,7.50 H315.4" stroke="#111" stroke-width="1.35"/>
<text x="311.0" y="10.3" font-size="8.0" text-anchor="end" fill="#1c1c1c" stroke="#1c1c1c" stroke-width="0.26" >1.5</text>
<path d="M312,56.92 H315.4" stroke="#111" stroke-width="1.35"/>
<text x="311.0" y="59.72" font-size="8.0" text-anchor="end" fill="#1c1c1c" stroke="#1c1c1c" stroke-width="0.26" >1.0</text>
<path d="M312,106.34 H315.4" stroke="#111" stroke-width="1.35"/>
<text x="311.0" y="109.14" font-size="8.0" text-anchor="end" fill="#1c1c1c" stroke="#1c1c1c" stroke-width="0.26" >0.5</text>
<path d="M312,155.76 H315.4" stroke="#111" stroke-width="1.35"/>
<text x="311.0" y="158.56" font-size="8.0" text-anchor="end" fill="#1c1c1c" stroke="#1c1c1c" stroke-width="0.26" >0.0</text>
<path d="M337.7,32.7 V29.2 H359.8 V32.7" stroke="#111" stroke-width="1" fill="none"/>
<path d="M406.9,23.9 V20.5 H429.3 V23.9" stroke="#111" stroke-width="1" fill="none"/>
<text x="348.5" y="26.9" font-size="7.9" text-anchor="middle" fill="#1c1c1c" stroke="#1c1c1c" stroke-width="0.27" >p&lt;0.05</text>
<text x="418.5" y="18.0" font-size="7.9" text-anchor="middle" fill="#1c1c1c" stroke="#1c1c1c" stroke-width="0.27" >NS</text>
<text x="377.8" y="8.5" font-size="9" text-anchor="middle" fill="#1c1c1c" stroke="#1c1c1c" stroke-width="0.23" >2 min post-injury</text>
<text x="349.6" y="167.2" font-size="9" text-anchor="middle" font-weight="bold" fill="#1c1c1c" stroke="#1c1c1c" stroke-width="0.23" >Shell</text>
<text x="418.0" y="167.2" font-size="9" text-anchor="middle" font-weight="bold" fill="#1c1c1c" stroke="#1c1c1c" stroke-width="0.23" >Core</text>
<text transform="translate(293.6,80.8) rotate(-90)" x="0" y="0" font-size="8.95" text-anchor="middle" font-weight="bold" fill="#1c1c1c" stroke="#1c1c1c" stroke-width="0.28">Normalized Area</text>
<rect x="458.8" y="85.7" width="13.2" height="8.0" fill="#c8c8c8" stroke="#111" stroke-width="1.3"/>
<rect x="458.2" y="98.2" width="14.4" height="8.9" fill="#000"/>
<text x="478.1" y="93.3" font-size="9.4" text-anchor="start" fill="#1c1c1c" stroke="#1c1c1c" stroke-width="0.22" >Control</text>
<text x="478.1" y="106.3" font-size="9.4" text-anchor="start" fill="#1c1c1c" stroke="#1c1c1c" stroke-width="0.22" >Cangrelor</text>
<text x="12.6" y="207.5" font-size="11.6" text-anchor="start" font-weight="bold" fill="#1c1c1c" stroke="#1c1c1c" stroke-width="0.15" >C</text>
<text x="102.3" y="207.4" font-size="12.4" text-anchor="middle" fill="#1c1c1c" stroke="#1c1c1c" stroke-width="0.12" >Control</text>
<g clip-path="url(#clipC)">
<rect x="28.6" y="213.7" width="161.0" height="118.5" fill="#808080"/>
<g transform="rotate(-28 108 272)"><rect x="-10" y="160" width="240" height="230" filter="url(#noiseC)"/></g>
<polygon points="36,262 78,258 80,268 32,296" fill="#b0b0b0" filter="url(#blur2)" opacity="0.35"/>
<polygon points="28,314 80,284 76,310 28,326" fill="#b0b0b0" filter="url(#blur2)" opacity="0.35"/>
<polygon points="112,300 136,290 138,331 112,331" fill="#b0b0b0" filter="url(#blur2)" opacity="0.35"/>
<polygon points="150,265 188,244 188,262 160,280" fill="#b0b0b0" filter="url(#blur2)" opacity="0.3"/>
<rect x="28.6" y="213.7" width="161.0" height="2.6" fill="#222"/>
<polygon points="28,238 37,238 37,300 28,302" fill="#303030" filter="url(#blur2)" opacity="0.75"/>
<polygon points="28,300.8 80.5,270.0 80.5,280.0 28,310.8" fill="#0e0e0e" filter="url(#blur1)" opacity="1.0"/>
<polygon points="76,258 98,254 101,333 73,333" fill="#464646" filter="url(#blur3)" opacity="0.95"/>
<polygon points="94,236 112,230 112,262 96,262" fill="#2a2a2a" filter="url(#blur2)" opacity="0.75"/>
<polygon points="140,278.0 189,247.0 189,257.0 140,288.0" fill="#1c1c1c" filter="url(#blur2)" opacity="0.95"/>
<polygon points="158,298.0 189,277.0 189,285.0 158,306.0" fill="#1c1c1c" filter="url(#blur2)" opacity="0.9"/>
<polygon points="136,314 189,305 189,333 136,333" fill="#2a2a2a" filter="url(#blur2)" opacity="0.55"/>
<polygon points="28,325 76,323 76,333 28,333" fill="#303030" filter="url(#blur2)" opacity="0.7"/>
<polygon points="160,222.5 185,210.5 185,217.5 160,229.5" fill="#1c1c1c" filter="url(#blur2)" opacity="0.6"/>
<polygon points="100,216 130,214 128,232 104,238" fill="#383838" filter="url(#blur2)" opacity="0.5"/>
<polygon points="125,214 189,214 189,230 125,230" fill="#202020" filter="url(#blur2)" opacity="0.45"/>
<polygon points="28,230.0 75,215.0 75,221.0 28,236.0" fill="#2a2a2a" filter="url(#blur2)" opacity="0.45"/>
<polygon points="28,264.5 125,218.5 125,225.5 28,271.5" fill="#1e1e1e" filter="url(#blur2)" opacity="0.55"/>
<polygon points="28,244.8 90.3,216.7 90.3,221.7 28,249.8" fill="#1a1a1a" filter="url(#blur2)" opacity="0.5"/>
<polygon points="28,229.7 65.4,214.1 65.4,218.1 28,233.7" fill="#1a1a1a" filter="url(#blur2)" opacity="0.45"/>
<polygon points="96.5,238.5 130.8,223.0 130.8,228.0 96.5,243.5" fill="#1a1a1a" filter="url(#blur2)" opacity="0.5"/>
<polygon points="137,228.7 190,210.0 190,216.0 137,234.7" fill="#1a1a1a" filter="url(#blur2)" opacity="0.5"/>
<polygon points="116,329.0 189,287.0 189,295.0 116,337.0" fill="#1c1c1c" filter="url(#blur2)" opacity="0.65"/>
<polygon points="97.6,313.7 95.9,307 95.9,290 96.7,278.5 100,265 108.5,253.4 114,250.5 122,249 127,250 125,265 121.8,278.5 118.5,288.6 113.5,297 106.8,307 101.8,313.7 99,317" fill="#96181c" opacity="0.7" filter="url(#blur1)"/>
<g clip-path="url(#clipRed)"><rect x="90" y="245" width="45" height="75" filter="url(#speck)" opacity="0.22"/></g>
<g clip-path="url(#clipYel)"><rect x="112" y="248" width="25" height="40" filter="url(#speckY)"/></g>
<g clip-path="url(#clipPur)"><rect x="118" y="252" width="25" height="42" filter="url(#speckP)"/></g>
<rect x="188.3" y="213.7" width="1.3" height="118.5" fill="#1a1a1a" opacity="0.8"/>
</g>
<rect x="40.4" y="237.9" width="53.6" height="19.9" fill="#d6d8d8"/>
<text x="43.4" y="252.6" font-size="12.1" text-anchor="start" fill="#d04040" stroke="#d04040" stroke-width="0.13" >Platelets</text>
<rect x="126.9" y="228.5" width="60" height="19.8" fill="#050505"/>
<text x="129.8" y="242.6" font-size="12.1" text-anchor="start" fill="#dede70" stroke="#dede70" stroke-width="0.13" >P-selectin</text>
<rect x="133.4" y="294.3" width="37.5" height="19.7" fill="#d6d8d8"/>
<text x="136.0" y="308.2" font-size="12.1" text-anchor="start" fill="#3848c0" stroke="#3848c0" stroke-width="0.13" >Fibrin</text>
<line x1="79.2" y1="262.7" x2="97" y2="275.3" stroke="#d42020" stroke-width="1.9"/>
<circle cx="98.5" cy="276.3" r="2.2" fill="#e02020"/>
<line x1="141.3" y1="248.8" x2="129" y2="260" stroke="#f0f040" stroke-width="1.6"/>
<polygon points="127,262.7 128.5,256.5 132.5,260" fill="#f0f040"/>
<line x1="141.1" y1="294.6" x2="131.5" y2="282" stroke="#2030e0" stroke-width="1.6"/>
<polygon points="129.9,279.9 135,283 131,286" fill="#2030e0"/>
<text x="30.5" y="220.8" font-size="4.6" font-weight="bold" fill="#f0f0f0">00:02:00.000</text>
<text x="249.6" y="207.3" font-size="11.4" text-anchor="start" font-weight="bold" fill="#1c1c1c" stroke="#1c1c1c" stroke-width="0.16" >D</text>
<text x="339.4" y="207.6" font-size="12" text-anchor="middle" fill="#1c1c1c" stroke="#1c1c1c" stroke-width="0.14" >+ Hirudin</text>
<g clip-path="url(#clipD)">
<rect x="264.4" y="213.8" width="161.0" height="118.2" fill="#808080"/>
<g transform="rotate(12 345 272)"><rect x="245" y="172" width="200" height="200" filter="url(#noiseV)"/></g>
<rect x="264.4" y="213.8" width="161.0" height="1.3" fill="#2a2a2a"/>
<polygon points="263.5,212 267.5,212 267.5,333 263.5,333" fill="#161616" filter="url(#blur2)" opacity="0.95"/>
<polygon points="290.0,212 299.0,212 291.0,333 282.0,333" fill="#161616" filter="url(#blur2)" opacity="0.9"/>
<polygon points="318.0,212 327.0,212 315.0,333 306.0,333" fill="#161616" filter="url(#blur2)" opacity="0.95"/>
<polygon points="366.5,212 374.5,212 361.5,333 353.5,333" fill="#161616" filter="url(#blur2)" opacity="0.9"/>
<polygon points="381.5,212 388.5,212 378.5,333 371.5,333" fill="#161616" filter="url(#blur2)" opacity="0.85"/>
<polygon points="402.0,212 410.0,212 401.0,333 393.0,333" fill="#161616" filter="url(#blur2)" opacity="0.85"/>
<polygon points="276.0,212 282.0,212 278.0,333 272.0,333" fill="#161616" filter="url(#blur2)" opacity="0.45"/>
<polygon points="342.5,212 347.5,212 342.5,333 337.5,333" fill="#161616" filter="url(#blur2)" opacity="0.35"/>
<rect x="264.4" y="260" width="161.0" height="56" fill="#6c6c6c" mask="url(#maskDband)"/>
<g mask="url(#maskDband2)">
<polygon points="263.5,212 267.5,212 267.5,333 263.5,333" fill="#202020" filter="url(#blur3)" opacity="0.66"/>
<polygon points="290.0,212 299.0,212 291.0,333 282.0,333" fill="#202020" filter="url(#blur3)" opacity="0.63"/>
<polygon points="318.0,212 327.0,212 315.0,333 306.0,333" fill="#202020" filter="url(#blur3)" opacity="0.66"/>
<polygon points="366.5,212 374.5,212 361.5,333 353.5,333" fill="#202020" filter="url(#blur3)" opacity="0.63"/>
<polygon points="381.5,212 388.5,212 378.5,333 371.5,333" fill="#202020" filter="url(#blur3)" opacity="0.59"/>
<polygon points="402.0,212 410.0,212 401.0,333 393.0,333" fill="#202020" filter="url(#blur3)" opacity="0.59"/>
<polygon points="276.0,212 282.0,212 278.0,333 272.0,333" fill="#202020" filter="url(#blur3)" opacity="0.32"/>
<polygon points="342.5,212 347.5,212 342.5,333 337.5,333" fill="#202020" filter="url(#blur3)" opacity="0.24"/>
</g>
<rect x="264.4" y="306" width="161.0" height="30" fill="#000" filter="url(#blur3)" opacity="0.33"/>
<path d="M386,276.5 Q395,275.5 403,277.5 T424,277.5" stroke="#222" stroke-width="1.4" fill="none" opacity="0.7"/>
<g clip-path="url(#clipDred)"><rect x="300" y="262" width="56" height="16" filter="url(#speckR)" opacity="0.9"/></g>
<ellipse cx="321" cy="271.5" rx="4" ry="1.8" fill="#e02828" opacity="0.8" filter="url(#blur1)"/>
<rect x="424.1" y="213.8" width="1.3" height="118.2" fill="#1a1a1a" opacity="0.8"/>
</g>
<rect x="281.1" y="293.9" width="53.6" height="20.2" fill="#d6d8d8"/>
<text x="284.6" y="308.4" font-size="12.1" text-anchor="start" fill="#d04040" stroke="#d04040" stroke-width="0.13" >Platelets</text>
<line x1="318" y1="294.2" x2="322" y2="281" stroke="#e02020" stroke-width="1.8"/>
<polygon points="322.7,276.5 325,283 319.8,282" fill="#e02020"/>
<text x="266.3" y="221.0" font-size="4.6" font-weight="bold" fill="#f0f0f0">00:02:08.000</text>
<text x="1.2" y="360.7" font-size="10.8" text-anchor="start" font-weight="bold" fill="#1c1c1c" stroke="#1c1c1c" stroke-width="0.17" >E</text>
<polyline points="36.8,475.6 38.3,475.5 39.7,475.9 41.2,475.1 42.6,475.2 44.1,475.8 45.5,475.5 47.0,475.0 48.1,474.2 49.2,473.8 50.4,472.5 51.6,471.3 52.7,471.3 54.2,470.6 55.7,471.0 57.2,471.0 58.0,469.7 58.7,469.0 59.5,467.2 60.2,466.5 61.0,464.9 61.7,464.5 62.5,462.6 63.2,461.8 64.0,461.0 64.8,459.9 65.5,458.1 66.3,457.6 67.4,456.9 68.6,455.7 69.7,455.4 70.8,454.2 72.0,453.4 73.1,452.7 74.3,452.1 75.4,451.9 76.5,450.9 77.7,450.6 78.8,449.9 79.9,448.5 81.0,448.0 82.2,447.0 83.3,446.8 84.4,446.1 85.5,445.4 86.7,444.2 87.8,444.0 89.0,442.8 90.1,442.7 91.2,441.7 92.4,440.7 93.5,440.7 94.8,440.2 96.1,439.2 97.4,439.2 98.7,438.2 100.0,437.9 101.3,437.5 102.6,437.2 103.9,436.2 105.2,435.8 106.5,435.6 107.7,435.5 109.0,435.5 110.3,435.1 111.6,434.2 113.1,434.4 114.6,433.4 116.0,432.8 117.5,432.8 119.0,432.8 120.3,432.2 121.6,431.2 122.9,431.0 124.2,429.9 125.5,429.3 126.8,429.5 128.1,428.7 129.4,427.8 130.7,427.5 132.0,427.5 133.3,426.4 134.6,426.1 135.9,426.3 137.2,425.4 138.5,425.1 139.8,424.7 141.1,424.4 142.4,423.8 143.7,423.4 145.0,423.5 146.3,423.0 147.6,422.9 148.9,421.9 150.2,421.7 151.5,422.1 152.8,421.3 154.1,421.5 155.4,420.8 156.9,420.8 158.4,420.9 159.9,420.6 161.4,420.6 162.9,420.0 164.4,420.6 165.7,420.2 167.0,419.7 168.3,419.6 169.6,419.6 170.9,419.6 172.2,418.6 173.5,419.2 175.2,418.1 176.9,417.2" fill="none" stroke="#7cc83c" stroke-width="1.9" stroke-linejoin="round"/>
<polyline points="36.8,476.0 36.8,474.6 36.9,473.1 36.9,471.8 37.0,471.1 37.0,469.5 37.1,468.3 37.1,466.9 37.1,465.4 37.2,464.4 37.2,462.9 37.3,461.8 37.3,460.4 37.4,459.2 37.4,457.6 37.5,456.0 37.5,454.7 37.8,453.9 38.0,452.1 38.3,451.2 38.6,449.8 38.8,448.0 39.1,447.4 39.6,445.3 40.2,444.6 40.8,443.1 41.3,441.1 42.4,440.5 43.6,439.4 44.8,437.7 45.9,437.1 47.4,435.8 48.9,435.7 50.4,434.8 51.5,434.2 52.6,432.5 53.8,431.9 54.9,431.3 55.0,432.7 55.1,433.8 55.3,435.8 55.4,437.2 56.8,436.0 58.1,435.0 59.5,434.8 60.9,434.1 62.2,433.9 63.6,433.3 64.9,432.7 66.3,432.0 67.6,431.7 68.9,431.7 70.2,431.6 71.5,431.0 72.8,431.0 74.1,430.5 75.4,430.4 76.7,429.9 78.0,429.3 79.3,428.8 80.5,428.4 81.8,428.0 83.1,428.5 84.4,428.1 85.7,428.2 87.0,427.8 88.3,428.5 89.6,428.2 90.9,429.0 92.2,429.0 93.5,429.2 94.8,429.3 96.1,429.2 97.4,429.8 98.7,430.0 100.0,429.6 101.3,429.9 102.6,430.3 103.9,429.9 105.2,429.4 106.5,429.1 107.7,429.2 109.0,428.3 110.3,427.9 111.6,428.0 112.9,427.1 114.2,427.2 115.5,426.2 116.8,426.2 118.1,425.3 119.4,425.2 120.7,424.6 122.2,424.5 123.7,424.0 125.1,423.9 126.6,423.7 128.1,423.7 129.2,424.8 130.4,425.0 131.5,425.8 132.7,426.8 134.5,428.2 135.4,427.1 136.4,425.9 137.4,425.1 138.3,423.4 139.6,424.3 141.0,424.0 142.3,424.2 143.6,424.2 145.0,424.3 146.3,424.8 147.6,424.9 148.9,425.0 150.2,424.5 151.5,425.2 152.8,425.7 154.1,425.6 155.4,425.6 156.5,426.5 157.6,426.8 158.8,428.1 159.9,428.9 161.0,429.0 162.4,429.0 163.8,428.7 165.3,428.1 166.7,428.0 168.1,428.5 169.4,428.8 170.8,428.6 172.1,428.8 173.5,429.7 175.2,429.1 176.9,428.5" fill="none" stroke="#2a3cc0" stroke-width="1.9" stroke-linejoin="round"/>
<polyline points="36.8,476.0 36.9,474.7 37.0,472.8 37.2,471.6 37.3,470.2 37.4,469.2 37.5,467.8 37.6,466.6 37.8,464.4 37.9,463.3 38.0,461.6 38.1,460.3 38.3,459.1 38.4,457.3 38.5,456.0 38.7,454.9 38.8,453.4 39.0,451.7 39.1,450.6 40.2,448.5 41.9,448.4 43.6,449.7 44.8,448.4 45.9,447.0 46.4,445.5 46.9,444.9 47.4,443.1 47.8,441.5 48.3,440.2 48.8,439.6 49.3,438.1 49.6,436.9 50.0,435.5 50.3,434.0 50.7,433.0 51.0,431.1 51.3,429.9 51.7,428.8 52.0,427.2 52.4,426.1 52.7,424.5 53.1,423.3 53.5,421.5 53.8,420.4 54.2,419.2 54.6,417.7 55.0,416.6 55.3,415.3 55.7,414.2 56.1,413.2 56.4,411.6 56.8,410.3 57.1,408.8 57.5,407.5 57.8,406.7 58.1,405.1 58.5,403.7 58.8,401.9 59.2,401.1 59.5,399.2 59.8,398.0 60.2,397.2 60.5,395.5 60.9,394.1 61.2,392.9 61.5,391.6 61.9,390.2 62.2,388.4 62.6,386.8 62.9,385.7 63.5,384.0 64.0,382.2 64.6,384.4 65.2,385.8 65.8,386.8 66.6,385.4 67.4,383.5 68.2,382.8 68.9,381.3 69.7,380.0 70.5,381.5 71.2,383.3 72.0,384.5 73.7,385.4 75.4,386.3 76.1,386.9 76.8,387.9 77.4,389.7 78.1,390.4 78.8,391.1 80.1,392.1 81.3,393.1 82.6,394.6 84.0,393.8 85.3,392.4 86.7,391.1 87.5,390.3 88.4,389.7 89.2,388.2 90.1,387.4 91.8,387.3 93.5,386.6 94.4,386.1 95.3,384.9 96.2,383.6 97.1,382.2 98.0,381.4 99.5,381.4 101.1,382.0 102.6,382.5 103.7,383.6 104.8,384.2 106.0,384.3 107.1,385.2 108.2,385.6 109.6,386.7 111.1,387.1 112.5,387.1 113.9,387.8 115.2,388.5 116.5,388.7 117.7,390.0 119.0,390.4 120.3,390.8 121.6,390.7 122.9,390.4 124.2,390.9 125.5,390.8 126.8,391.7 128.1,391.8 129.4,392.0 130.7,391.7 132.0,391.6 133.3,392.5 134.6,392.8 135.9,392.2 137.2,392.7 138.5,392.2 139.8,392.7 141.1,392.6 142.4,392.0 143.7,392.2 145.0,392.1 146.3,391.8 147.6,392.5 148.9,392.3 150.2,392.3 151.5,392.8 152.8,393.2 154.1,392.9 155.4,393.2 156.7,394.1 158.0,394.0 159.3,394.0 160.5,394.3 161.8,394.2 163.1,394.5 164.4,394.9 165.7,395.2 167.0,394.9 168.3,395.0 169.6,395.0 170.9,395.5 172.2,395.3 173.5,396.0 175.2,396.7 176.9,397.2" fill="none" stroke="#d42a2a" stroke-width="1.9" stroke-linejoin="round"/>
<path d="M36.9,360.8 V476.0 H180.3 M180.3,361.8 V476.0" stroke="#111" stroke-width="1.6" fill="none"/>
<path d="M33.40,360.80 H36.9" stroke="#111" stroke-width="1.35"/>
<text x="32.199999999999996" y="363.7" font-size="8.1" text-anchor="end" fill="#1c1c1c" stroke="#1c1c1c" stroke-width="0.26" >1500</text>
<path d="M33.40,399.20 H36.9" stroke="#111" stroke-width="1.35"/>
<text x="32.199999999999996" y="402.09999999999997" font-size="8.1" text-anchor="end" fill="#1c1c1c" stroke="#1c1c1c" stroke-width="0.26" >1000</text>
<path d="M33.40,437.60 H36.9" stroke="#111" stroke-width="1.35"/>
<text x="32.199999999999996" y="440.5" font-size="8.1" text-anchor="end" fill="#1c1c1c" stroke="#1c1c1c" stroke-width="0.26" >500</text>
<path d="M33.40,476.00 H36.9" stroke="#111" stroke-width="1.35"/>
<text x="32.199999999999996" y="478.9" font-size="8.1" text-anchor="end" fill="#1c1c1c" stroke="#1c1c1c" stroke-width="0.26" >0</text>
<path d="M180.3,361.80 H183.60" stroke="#111" stroke-width="1.35"/>
<text x="184.5" y="364.7" font-size="8.1" text-anchor="start" fill="#1c1c1c" stroke="#1c1c1c" stroke-width="0.26" >400</text>
<path d="M180.3,390.35 H183.60" stroke="#111" stroke-width="1.35"/>
<text x="184.5" y="393.25" font-size="8.1" text-anchor="start" fill="#1c1c1c" stroke="#1c1c1c" stroke-width="0.26" >300</text>
<path d="M180.3,418.90 H183.60" stroke="#111" stroke-width="1.35"/>
<text x="184.5" y="421.79999999999995" font-size="8.1" text-anchor="start" fill="#1c1c1c" stroke="#1c1c1c" stroke-width="0.26" >200</text>
<path d="M180.3,447.45 H183.60" stroke="#111" stroke-width="1.35"/>
<text x="184.5" y="450.34999999999997" font-size="8.1" text-anchor="start" fill="#1c1c1c" stroke="#1c1c1c" stroke-width="0.26" >100</text>
<path d="M180.3,476.00 H183.60" stroke="#111" stroke-width="1.35"/>
<text x="184.5" y="478.9" font-size="8.1" text-anchor="start" fill="#1c1c1c" stroke="#1c1c1c" stroke-width="0.26" >0</text>
<path d="M36.90,476.0 V479.2" stroke="#111" stroke-width="1.35"/>
<text x="36.9" y="488.4" font-size="8.1" text-anchor="middle" fill="#1c1c1c" stroke="#1c1c1c" stroke-width="0.26" >0</text>
<path d="M65.58,476.0 V479.2" stroke="#111" stroke-width="1.35"/>
<text x="65.58" y="488.4" font-size="8.1" text-anchor="middle" fill="#1c1c1c" stroke="#1c1c1c" stroke-width="0.26" >50</text>
<path d="M94.26,476.0 V479.2" stroke="#111" stroke-width="1.35"/>
<text x="94.25999999999999" y="488.4" font-size="8.1" text-anchor="middle" fill="#1c1c1c" stroke="#1c1c1c" stroke-width="0.26" >100</text>
<path d="M122.94,476.0 V479.2" stroke="#111" stroke-width="1.35"/>
<text x="122.94" y="488.4" font-size="8.1" text-anchor="middle" fill="#1c1c1c" stroke="#1c1c1c" stroke-width="0.26" >150</text>
<path d="M151.62,476.0 V479.2" stroke="#111" stroke-width="1.35"/>
<text x="151.62" y="488.4" font-size="8.1" text-anchor="middle" fill="#1c1c1c" stroke="#1c1c1c" stroke-width="0.26" >200</text>
<path d="M180.30,476.0 V479.2" stroke="#111" stroke-width="1.35"/>
<text x="180.3" y="488.4" font-size="8.1" text-anchor="middle" fill="#1c1c1c" stroke="#1c1c1c" stroke-width="0.26" >250</text>
<text x="108.60000000000001" y="504.0" font-size="8.9" text-anchor="middle" font-weight="bold" fill="#1c1c1c" stroke="#1c1c1c" stroke-width="0.24" >Time (s)</text>
<text x="108.2" y="357.3" font-size="9.3" text-anchor="middle" fill="#1c1c1c" stroke="#1c1c1c" stroke-width="0.22" >Control</text>
<text transform="translate(10.4,418.0) rotate(-90)" x="0" y="0" font-size="9.7" text-anchor="middle" font-weight="bold" fill="#1c1c1c" stroke="#1c1c1c" stroke-width="0.28">CD41 Area (μm<tspan font-size="65%" dy="-0.45em">2</tspan><tspan dy="0.29em">)</tspan></text>
<text transform="translate(211.6,419.4) rotate(-90)" x="0" y="0" font-size="9.2" text-anchor="middle" font-weight="bold" fill="#1c1c1c" stroke="#1c1c1c" stroke-width="0.28">P-selectin/Fibrin Area (μm<tspan font-size="65%" dy="-0.45em">2</tspan><tspan dy="0.29em">)</tspan></text>
<line x1="112.7" y1="442.6" x2="127" y2="442.6" stroke="#d42a2a" stroke-width="1.9"/>
<text x="133.4" y="446.0" font-size="9.4" text-anchor="start" fill="#1c1c1c" stroke="#1c1c1c" stroke-width="0.22" >Platelets</text>
<line x1="112.7" y1="454.2" x2="127" y2="454.2" stroke="#2a3cc0" stroke-width="1.9"/>
<text x="133.4" y="457.65" font-size="9.4" text-anchor="start" fill="#1c1c1c" stroke="#1c1c1c" stroke-width="0.22" >Fibrin</text>
<line x1="112.7" y1="465.9" x2="127" y2="465.9" stroke="#7cc83c" stroke-width="1.9"/>
<text x="133.4" y="469.3" font-size="9.4" text-anchor="start" fill="#1c1c1c" stroke="#1c1c1c" stroke-width="0.22" >P-selectin</text>
<text x="236.4" y="359.8" font-size="10.8" text-anchor="start" font-weight="bold" fill="#1c1c1c" stroke="#1c1c1c" stroke-width="0.17" >F</text>
<polyline points="272.4,475.2 412.0,475.2" fill="none" stroke="#2a3cc0" stroke-width="1.9"/>
<polyline points="272.4,475.4 285.0,475.4" fill="none" stroke="#7cc83c" stroke-width="1.9"/>
<polyline points="272.1,476.0 272.5,474.4 272.8,472.7 273.1,471.5 273.5,469.5 273.9,468.4 274.4,467.6 274.9,465.3 275.3,464.2 275.8,463.2 276.2,461.3 276.7,460.0 277.2,459.3 277.8,458.2 278.3,456.2 278.8,454.7 279.3,454.1 279.7,452.2 280.2,451.1 281.5,449.8 282.9,448.4 283.6,447.4 284.2,446.1 284.9,444.4 285.6,443.2 285.9,444.5 286.2,445.7 286.6,446.9 286.9,448.0 287.6,449.4 288.2,451.4 288.9,452.6 289.6,453.3 290.5,455.4 291.4,456.1 292.3,457.9 293.6,456.3 295.0,454.8 296.0,453.7 296.9,453.2 297.9,452.0 298.8,451.3 299.8,450.4 300.4,452.1 301.1,453.8 301.7,455.1 303.1,455.0 304.4,454.1 305.8,454.1 307.1,453.5 308.5,453.1 309.8,451.9 311.1,453.3 312.5,454.1 313.8,454.6 314.3,456.2 314.9,457.7 315.4,458.5 316.0,459.9 316.5,461.8 317.9,462.3 319.2,463.5 320.5,464.1 321.9,464.7 323.2,465.1 324.6,464.8 325.9,465.7 327.3,465.4 327.9,466.8 328.4,468.4 328.9,469.6 329.5,470.7 329.7,469.9 329.9,468.9 330.1,466.7 330.3,465.5 330.5,464.8 332.1,464.4 333.8,464.4 335.4,464.3 335.8,463.4 336.3,461.7 336.7,460.3 337.1,461.6 337.4,463.4 337.8,464.0 338.1,465.7 339.5,466.1 340.8,465.6 342.1,466.0 343.5,466.1 344.8,466.9 346.2,467.2 347.5,467.6 348.9,467.9 350.2,468.4 350.5,470.3 350.7,470.8 351.0,472.1 351.5,470.8 351.9,469.4 352.4,468.1 352.9,466.9 354.2,467.3 355.6,467.6 356.9,466.6 358.3,467.1 359.6,466.8 361.0,467.5 362.3,467.6 363.7,467.5 365.0,467.1 366.4,467.8 367.7,468.0 369.1,468.3 370.4,468.2 371.8,468.3 373.1,469.1 374.5,469.3 375.8,468.8 377.1,468.9 378.5,468.5 379.9,469.0 381.2,469.3 382.5,469.0 383.9,468.6 385.2,468.6 386.6,469.3 387.9,469.1 389.3,468.6 390.6,468.8 391.9,468.4 393.3,468.8 394.6,468.2 396.0,468.4 397.3,468.6 398.7,468.5 400.0,468.3 401.3,468.7 402.7,468.4 404.0,468.9 405.3,469.1 406.7,468.9 408.0,469.3 409.3,468.6 410.7,469.4 412.0,469.0" fill="none" stroke="#d42a2a" stroke-width="1.9" stroke-linejoin="round"/>
<path d="M272.4,360.8 V476.0 H415.2 M415.2,361.8 V476.0" stroke="#111" stroke-width="1.6" fill="none"/>
<path d="M268.90,360.80 H272.4" stroke="#111" stroke-width="1.35"/>
<text x="267.7" y="363.7" font-size="8.1" text-anchor="end" fill="#1c1c1c" stroke="#1c1c1c" stroke-width="0.26" >1500</text>
<path d="M268.90,399.20 H272.4" stroke="#111" stroke-width="1.35"/>
<text x="267.7" y="402.09999999999997" font-size="8.1" text-anchor="end" fill="#1c1c1c" stroke="#1c1c1c" stroke-width="0.26" >1000</text>
<path d="M268.90,437.60 H272.4" stroke="#111" stroke-width="1.35"/>
<text x="267.7" y="440.5" font-size="8.1" text-anchor="end" fill="#1c1c1c" stroke="#1c1c1c" stroke-width="0.26" >500</text>
<path d="M268.90,476.00 H272.4" stroke="#111" stroke-width="1.35"/>
<text x="267.7" y="478.9" font-size="8.1" text-anchor="end" fill="#1c1c1c" stroke="#1c1c1c" stroke-width="0.26" >0</text>
<path d="M415.2,361.80 H418.50" stroke="#111" stroke-width="1.35"/>
<text x="419.4" y="364.7" font-size="8.1" text-anchor="start" fill="#1c1c1c" stroke="#1c1c1c" stroke-width="0.26" >400</text>
<path d="M415.2,390.35 H418.50" stroke="#111" stroke-width="1.35"/>
<text x="419.4" y="393.25" font-size="8.1" text-anchor="start" fill="#1c1c1c" stroke="#1c1c1c" stroke-width="0.26" >300</text>
<path d="M415.2,418.90 H418.50" stroke="#111" stroke-width="1.35"/>
<text x="419.4" y="421.79999999999995" font-size="8.1" text-anchor="start" fill="#1c1c1c" stroke="#1c1c1c" stroke-width="0.26" >200</text>
<path d="M415.2,447.45 H418.50" stroke="#111" stroke-width="1.35"/>
<text x="419.4" y="450.34999999999997" font-size="8.1" text-anchor="start" fill="#1c1c1c" stroke="#1c1c1c" stroke-width="0.26" >100</text>
<path d="M415.2,476.00 H418.50" stroke="#111" stroke-width="1.35"/>
<text x="419.4" y="478.9" font-size="8.1" text-anchor="start" fill="#1c1c1c" stroke="#1c1c1c" stroke-width="0.26" >0</text>
<path d="M272.40,476.0 V479.2" stroke="#111" stroke-width="1.35"/>
<text x="272.4" y="488.4" font-size="8.1" text-anchor="middle" fill="#1c1c1c" stroke="#1c1c1c" stroke-width="0.26" >0</text>
<path d="M300.96,476.0 V479.2" stroke="#111" stroke-width="1.35"/>
<text x="300.96" y="488.4" font-size="8.1" text-anchor="middle" fill="#1c1c1c" stroke="#1c1c1c" stroke-width="0.26" >50</text>
<path d="M329.52,476.0 V479.2" stroke="#111" stroke-width="1.35"/>
<text x="329.52" y="488.4" font-size="8.1" text-anchor="middle" fill="#1c1c1c" stroke="#1c1c1c" stroke-width="0.26" >100</text>
<path d="M358.08,476.0 V479.2" stroke="#111" stroke-width="1.35"/>
<text x="358.08" y="488.4" font-size="8.1" text-anchor="middle" fill="#1c1c1c" stroke="#1c1c1c" stroke-width="0.26" >150</text>
<path d="M386.64,476.0 V479.2" stroke="#111" stroke-width="1.35"/>
<text x="386.64" y="488.4" font-size="8.1" text-anchor="middle" fill="#1c1c1c" stroke="#1c1c1c" stroke-width="0.26" >200</text>
<path d="M415.20,476.0 V479.2" stroke="#111" stroke-width="1.35"/>
<text x="415.2" y="488.4" font-size="8.1" text-anchor="middle" fill="#1c1c1c" stroke="#1c1c1c" stroke-width="0.26" >250</text>
<text x="343.79999999999995" y="504.0" font-size="8.9" text-anchor="middle" font-weight="bold" fill="#1c1c1c" stroke="#1c1c1c" stroke-width="0.24" >Time (s)</text>
<text x="340.3" y="357.3" font-size="9.3" text-anchor="middle" fill="#1c1c1c" stroke="#1c1c1c" stroke-width="0.22" >+ Hirudin</text>
<text transform="translate(246.6,418.0) rotate(-90)" x="0" y="0" font-size="9.7" text-anchor="middle" font-weight="bold" fill="#1c1c1c" stroke="#1c1c1c" stroke-width="0.28">CD41 Area (μm<tspan font-size="65%" dy="-0.45em">2</tspan><tspan dy="0.29em">)</tspan></text>
<text transform="translate(448.2,418.6) rotate(-90)" x="0" y="0" font-size="9.2" text-anchor="middle" font-weight="bold" fill="#1c1c1c" stroke="#1c1c1c" stroke-width="0.28">P-selectin/Fibrin Area (μm<tspan font-size="65%" dy="-0.45em">2</tspan><tspan dy="0.29em">)</tspan></text>
<line x1="340.7" y1="377.7" x2="355.5" y2="377.7" stroke="#d42a2a" stroke-width="1.9"/>
<text x="361.8" y="381.09999999999997" font-size="9.2" text-anchor="start" fill="#1c1c1c" stroke="#1c1c1c" stroke-width="0.23" >Platelets</text>
<line x1="340.7" y1="390.3" x2="355.5" y2="390.3" stroke="#2a3cc0" stroke-width="1.9"/>
<text x="361.8" y="393.74999999999994" font-size="9.2" text-anchor="start" fill="#1c1c1c" stroke="#1c1c1c" stroke-width="0.23" >Fibrin</text>
<line x1="340.7" y1="403.0" x2="355.5" y2="403.0" stroke="#7cc83c" stroke-width="1.9"/>
<text x="361.8" y="406.4" font-size="9.2" text-anchor="start" fill="#1c1c1c" stroke="#1c1c1c" stroke-width="0.23" >P-selectin</text>
</svg>
</body></html>
